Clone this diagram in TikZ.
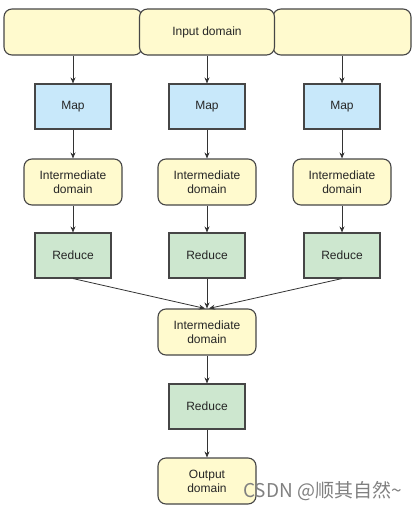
\documentclass[tikz,border=0pt]{standalone}
\usepackage{fontspec}
\setmainfont{Liberation Sans}
\newfontfamily\cjkfont{Noto Sans CJK SC}
\usetikzlibrary{arrows.meta}
\definecolor{yelfill}{RGB}{255,250,206}
\definecolor{bluefill}{RGB}{200,232,250}
\definecolor{greenfill}{RGB}{205,231,207}
\definecolor{edgecol}{RGB}{70,70,70}
\tikzset{
  base/.style={draw=edgecol, line width=1.1pt, align=center, inner sep=0pt,
    font=\fontsize{12}{14}\selectfont, text=black!85},
  domainbox/.style={base, fill=yelfill, rounded corners=8pt, minimum width=98pt, minimum height=46pt},
  mapbox/.style={base, fill=bluefill, minimum width=76pt, minimum height=45pt},
  reducebox/.style={base, fill=greenfill, minimum width=76pt, minimum height=45pt},
  conn/.style={draw=black!80, line width=0.8pt, -{Stealth[length=6pt,width=5pt]}},
}
\begin{document}
\begin{tikzpicture}[x=1pt,y=-1pt]
\useasboundingbox (0,0) rectangle (419,509);
% input domain
\node[domainbox, minimum width=138pt, minimum height=46pt] (in1) at (73,32) {};
\node[domainbox, minimum width=138pt, minimum height=46pt] (in3) at (342,32) {};
\node[domainbox, minimum width=135pt, minimum height=46pt] (in2) at (207,32) {Input domain};
% columns
\foreach \i/\x in {1/73, 2/207, 3/342}{
  \node[mapbox] (map\i) at (\x,106.5) {Map};
  \node[domainbox] (mid\i) at (\x,182) {Intermediate\\domain};
  \node[reducebox] (red\i) at (\x,255.5) {Reduce};
  \draw[conn] (in\i.south) -- (map\i.north);
  \draw[conn] (map\i.south) -- (mid\i.north);
  \draw[conn] (mid\i.south) -- (red\i.north);
}
\node[domainbox] (midc) at (207,332) {Intermediate\\domain};
\node[reducebox] (redc) at (207,406.5) {Reduce};
\node[domainbox] (out) at (207,481) {Output\\domain};
\draw[conn] (red1.south) -- ([xshift=-2pt]midc.north);
\draw[conn] (red2.south) -- (midc.north);
\draw[conn] (red3.south) -- ([xshift=2pt]midc.north);
\draw[conn] (midc.south) -- (redc.north);
\draw[conn] (redc.south) -- (out.north);
% watermark
\node[anchor=west, text=black!50, font=\cjkfont\fontsize{19}{21}\selectfont, inner sep=0pt] (wm) at (243,491) {CSDN @顺其自然\textasciitilde};
\end{tikzpicture}
\end{document}
